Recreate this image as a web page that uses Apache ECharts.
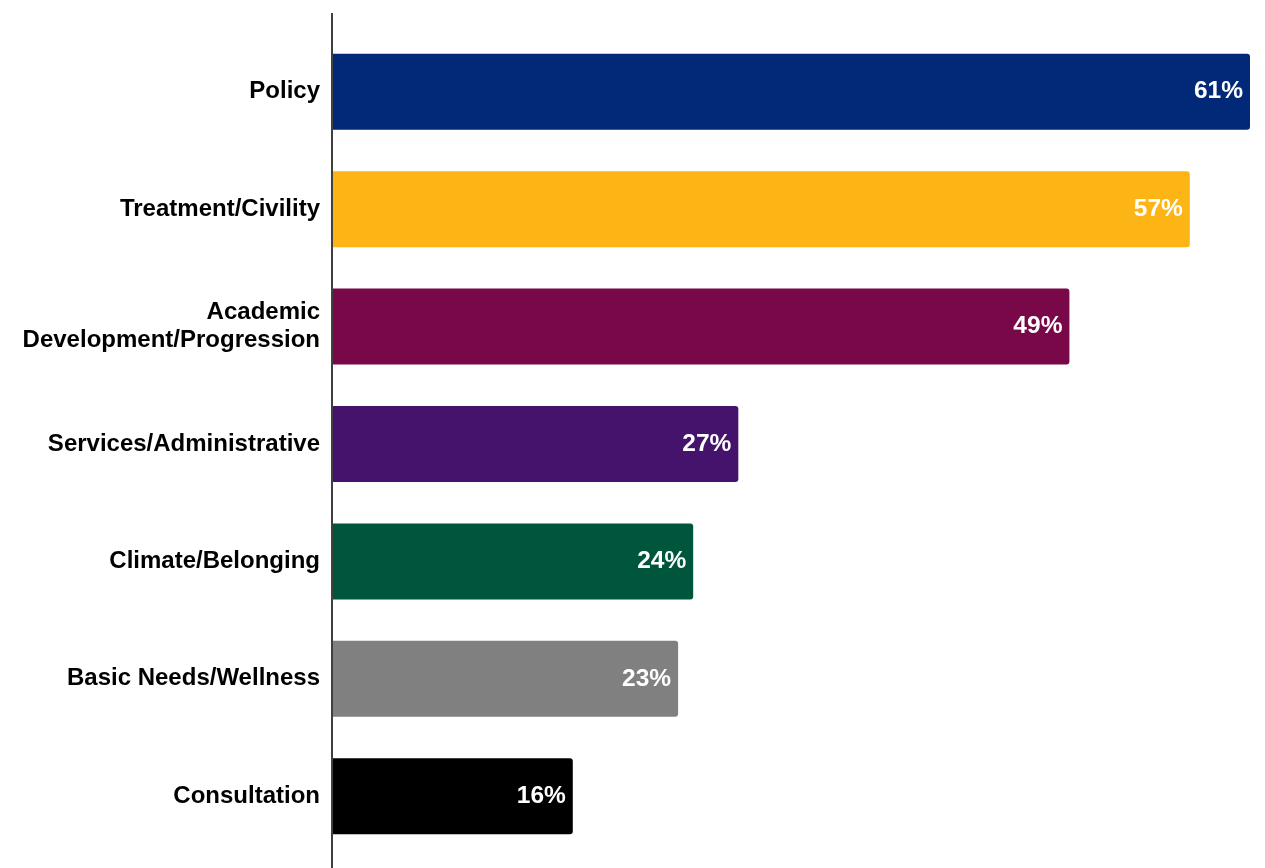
<!DOCTYPE html>
<html>
<head>
<meta charset="utf-8">
<script src="https://cdn.jsdelivr.net/npm/echarts@6/dist/echarts.min.js"></script>
<style>
  html, body { margin: 0; padding: 0; background: #ffffff; }
  #chart { width: 1265px; height: 868px; }
</style>
</head>
<body>
<div id="chart"></div>
<script>
// Share of responses by topic (percent)
const categories = [
  'Policy',
  'Treatment/Civility',
  'Academic\nDevelopment/Progression',
  'Services/Administrative',
  'Climate/Belonging',
  'Basic Needs/Wellness',
  'Consultation'
];
const values = [61, 57, 49, 27, 24, 23, 16];
const barColors = ['#012977', '#FDB515', '#780847', '#46136C', '#00553D', '#808080', '#000000'];

const chart = echarts.init(document.getElementById('chart'), null, { renderer: 'canvas' });

const fontFamily = '"Liberation Sans", Arial, Helvetica, sans-serif';

chart.setOption({
  animation: false,
  backgroundColor: '#ffffff',
  grid: { left: 332, right: 15, top: 33, bottom: 13 },
  xAxis: {
    type: 'value',
    min: 0,
    max: 61,
    show: false
  },
  yAxis: {
    type: 'category',
    inverse: true,
    data: categories,
    axisLine: { show: false },
    axisTick: { show: false },
    axisLabel: {
      margin: 12,
      color: '#000000',
      fontFamily: fontFamily,
      fontWeight: 'bold',
      fontSize: 24,
      lineHeight: 28,
      align: 'right',
      padding: [3, 0, 0, 0]
    }
  },
  series: [{
    type: 'bar',
    barWidth: 76,
    data: values.map((v, i) => ({
      value: v,
      itemStyle: { color: barColors[i], borderRadius: [0, 3, 3, 0] }
    })),
    label: {
      show: true,
      position: 'insideRight',
      distance: 7,
      color: '#ffffff',
      fontFamily: fontFamily,
      fontWeight: 'bold',
      fontSize: 24.5,
      padding: [2, 0, 0, 0],
      formatter: p => p.value + '%'
    }
  }],
  graphic: [{
    type: 'line',
    shape: { x1: 332, y1: 13, x2: 332, y2: 868 },
    style: { stroke: '#404040', lineWidth: 2 },
    z: 10
  }]
});
</script>
</body>
</html>
